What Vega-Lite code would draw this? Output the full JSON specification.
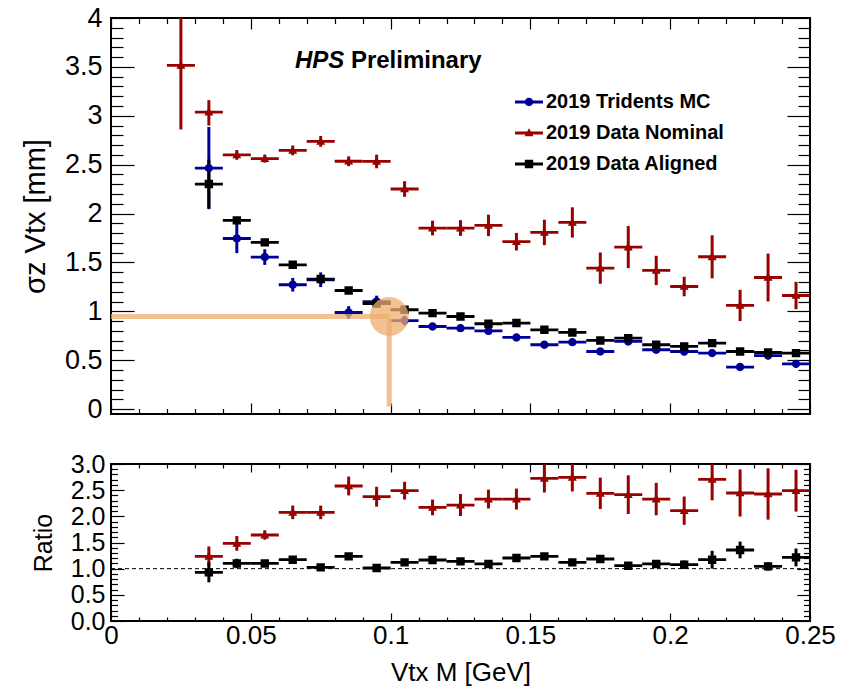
{
  "$schema": "https://vega.github.io/schema/vega-lite/v6.json",
  "padding": {"left": 20, "top": 3, "right": 16, "bottom": 4},
  "config": {
    "font": "Liberation Sans",
    "view": {"stroke": "black", "strokeWidth": 2},
    "axis": {"domain": false, "grid": false, "tickColor": "black", "tickWidth": 1.2, "labelColor": "black", "titleColor": "black", "labelFont": "Liberation Sans", "titleFont": "Liberation Sans", "titleFontWeight": "normal", "labelFlush": false, "labelOverlap": false, "labelBound": false}
  },
  "datasets": {
    "main": [
      {"s": "2019 Tridents MC", "x": 0.035, "y": 2.465, "lo": 2.045, "hi": 2.885},
      {"s": "2019 Tridents MC", "x": 0.045, "y": 1.745, "lo": 1.595, "hi": 1.895},
      {"s": "2019 Tridents MC", "x": 0.055, "y": 1.555, "lo": 1.475, "hi": 1.635},
      {"s": "2019 Tridents MC", "x": 0.065, "y": 1.272, "lo": 1.202, "hi": 1.342},
      {"s": "2019 Tridents MC", "x": 0.075, "y": 1.323, "lo": 1.248, "hi": 1.398},
      {"s": "2019 Tridents MC", "x": 0.085, "y": 0.988, "lo": 0.923, "hi": 1.053},
      {"s": "2019 Tridents MC", "x": 0.095, "y": 1.1, "lo": 1.04, "hi": 1.16},
      {"s": "2019 Tridents MC", "x": 0.105, "y": 0.905, "lo": 0.855, "hi": 0.955},
      {"s": "2019 Tridents MC", "x": 0.115, "y": 0.845, "lo": 0.815, "hi": 0.875},
      {"s": "2019 Tridents MC", "x": 0.125, "y": 0.828, "lo": 0.793, "hi": 0.863},
      {"s": "2019 Tridents MC", "x": 0.135, "y": 0.8, "lo": 0.76, "hi": 0.84},
      {"s": "2019 Tridents MC", "x": 0.145, "y": 0.733, "lo": 0.703, "hi": 0.763},
      {"s": "2019 Tridents MC", "x": 0.155, "y": 0.658, "lo": 0.638, "hi": 0.678},
      {"s": "2019 Tridents MC", "x": 0.165, "y": 0.685, "lo": 0.655, "hi": 0.715},
      {"s": "2019 Tridents MC", "x": 0.175, "y": 0.589, "lo": 0.569, "hi": 0.609},
      {"s": "2019 Tridents MC", "x": 0.185, "y": 0.692, "lo": 0.662, "hi": 0.722},
      {"s": "2019 Tridents MC", "x": 0.195, "y": 0.607, "lo": 0.577, "hi": 0.637},
      {"s": "2019 Tridents MC", "x": 0.205, "y": 0.589, "lo": 0.549, "hi": 0.629},
      {"s": "2019 Tridents MC", "x": 0.215, "y": 0.573, "lo": 0.533, "hi": 0.613},
      {"s": "2019 Tridents MC", "x": 0.225, "y": 0.43, "lo": 0.4, "hi": 0.46},
      {"s": "2019 Tridents MC", "x": 0.235, "y": 0.548, "lo": 0.508, "hi": 0.588},
      {"s": "2019 Tridents MC", "x": 0.245, "y": 0.463, "lo": 0.423, "hi": 0.503},
      {"s": "2019 Data Nominal", "x": 0.025, "y": 3.515, "lo": 2.86, "hi": 4.17},
      {"s": "2019 Data Nominal", "x": 0.035, "y": 3.038, "lo": 2.9, "hi": 3.16},
      {"s": "2019 Data Nominal", "x": 0.045, "y": 2.6, "lo": 2.55, "hi": 2.65},
      {"s": "2019 Data Nominal", "x": 0.055, "y": 2.561, "lo": 2.521, "hi": 2.601},
      {"s": "2019 Data Nominal", "x": 0.065, "y": 2.646, "lo": 2.596, "hi": 2.696},
      {"s": "2019 Data Nominal", "x": 0.075, "y": 2.738, "lo": 2.683, "hi": 2.793},
      {"s": "2019 Data Nominal", "x": 0.085, "y": 2.535, "lo": 2.485, "hi": 2.585},
      {"s": "2019 Data Nominal", "x": 0.095, "y": 2.533, "lo": 2.463, "hi": 2.603},
      {"s": "2019 Data Nominal", "x": 0.105, "y": 2.251, "lo": 2.171, "hi": 2.331},
      {"s": "2019 Data Nominal", "x": 0.115, "y": 1.852, "lo": 1.777, "hi": 1.927},
      {"s": "2019 Data Nominal", "x": 0.125, "y": 1.852, "lo": 1.772, "hi": 1.932},
      {"s": "2019 Data Nominal", "x": 0.135, "y": 1.879, "lo": 1.769, "hi": 1.989},
      {"s": "2019 Data Nominal", "x": 0.145, "y": 1.712, "lo": 1.622, "hi": 1.802},
      {"s": "2019 Data Nominal", "x": 0.155, "y": 1.807, "lo": 1.677, "hi": 1.937},
      {"s": "2019 Data Nominal", "x": 0.165, "y": 1.909, "lo": 1.754, "hi": 2.064},
      {"s": "2019 Data Nominal", "x": 0.175, "y": 1.442, "lo": 1.282, "hi": 1.602},
      {"s": "2019 Data Nominal", "x": 0.185, "y": 1.657, "lo": 1.442, "hi": 1.872},
      {"s": "2019 Data Nominal", "x": 0.195, "y": 1.418, "lo": 1.268, "hi": 1.568},
      {"s": "2019 Data Nominal", "x": 0.205, "y": 1.254, "lo": 1.154, "hi": 1.354},
      {"s": "2019 Data Nominal", "x": 0.215, "y": 1.558, "lo": 1.338, "hi": 1.778},
      {"s": "2019 Data Nominal", "x": 0.225, "y": 1.06, "lo": 0.9, "hi": 1.22},
      {"s": "2019 Data Nominal", "x": 0.235, "y": 1.346, "lo": 1.101, "hi": 1.591},
      {"s": "2019 Data Nominal", "x": 0.245, "y": 1.162, "lo": 1.022, "hi": 1.302},
      {"s": "2019 Data Aligned", "x": 0.035, "y": 2.302, "lo": 2.052, "hi": 2.552},
      {"s": "2019 Data Aligned", "x": 0.045, "y": 1.93, "lo": 1.9, "hi": 1.96},
      {"s": "2019 Data Aligned", "x": 0.055, "y": 1.705, "lo": 1.675, "hi": 1.735},
      {"s": "2019 Data Aligned", "x": 0.065, "y": 1.476, "lo": 1.456, "hi": 1.496},
      {"s": "2019 Data Aligned", "x": 0.075, "y": 1.33, "lo": 1.3, "hi": 1.36},
      {"s": "2019 Data Aligned", "x": 0.085, "y": 1.213, "lo": 1.193, "hi": 1.233},
      {"s": "2019 Data Aligned", "x": 0.095, "y": 1.08, "lo": 1.06, "hi": 1.1},
      {"s": "2019 Data Aligned", "x": 0.105, "y": 1.016, "lo": 0.996, "hi": 1.036},
      {"s": "2019 Data Aligned", "x": 0.115, "y": 0.982, "lo": 0.962, "hi": 1.002},
      {"s": "2019 Data Aligned", "x": 0.125, "y": 0.947, "lo": 0.927, "hi": 0.967},
      {"s": "2019 Data Aligned", "x": 0.135, "y": 0.873, "lo": 0.853, "hi": 0.893},
      {"s": "2019 Data Aligned", "x": 0.145, "y": 0.88, "lo": 0.86, "hi": 0.9},
      {"s": "2019 Data Aligned", "x": 0.155, "y": 0.811, "lo": 0.791, "hi": 0.831},
      {"s": "2019 Data Aligned", "x": 0.165, "y": 0.784, "lo": 0.764, "hi": 0.804},
      {"s": "2019 Data Aligned", "x": 0.175, "y": 0.702, "lo": 0.682, "hi": 0.722},
      {"s": "2019 Data Aligned", "x": 0.185, "y": 0.726, "lo": 0.706, "hi": 0.746},
      {"s": "2019 Data Aligned", "x": 0.195, "y": 0.658, "lo": 0.638, "hi": 0.678},
      {"s": "2019 Data Aligned", "x": 0.205, "y": 0.641, "lo": 0.621, "hi": 0.661},
      {"s": "2019 Data Aligned", "x": 0.215, "y": 0.675, "lo": 0.655, "hi": 0.695},
      {"s": "2019 Data Aligned", "x": 0.225, "y": 0.589, "lo": 0.569, "hi": 0.609},
      {"s": "2019 Data Aligned", "x": 0.235, "y": 0.579, "lo": 0.559, "hi": 0.599},
      {"s": "2019 Data Aligned", "x": 0.245, "y": 0.573, "lo": 0.543, "hi": 0.603}
    ],
    "ratio": [
      {"s": "2019 Data Nominal", "x": 0.035, "y": 1.235, "lo": 1.045, "hi": 1.425},
      {"s": "2019 Data Nominal", "x": 0.045, "y": 1.483, "lo": 1.343, "hi": 1.623},
      {"s": "2019 Data Nominal", "x": 0.055, "y": 1.643, "lo": 1.553, "hi": 1.733},
      {"s": "2019 Data Nominal", "x": 0.065, "y": 2.076, "lo": 1.946, "hi": 2.206},
      {"s": "2019 Data Nominal", "x": 0.075, "y": 2.076, "lo": 1.946, "hi": 2.206},
      {"s": "2019 Data Nominal", "x": 0.085, "y": 2.58, "lo": 2.4, "hi": 2.76},
      {"s": "2019 Data Nominal", "x": 0.095, "y": 2.375, "lo": 2.185, "hi": 2.565},
      {"s": "2019 Data Nominal", "x": 0.105, "y": 2.49, "lo": 2.32, "hi": 2.66},
      {"s": "2019 Data Nominal", "x": 0.115, "y": 2.17, "lo": 2.02, "hi": 2.32},
      {"s": "2019 Data Nominal", "x": 0.125, "y": 2.216, "lo": 2.006, "hi": 2.426},
      {"s": "2019 Data Nominal", "x": 0.135, "y": 2.33, "lo": 2.15, "hi": 2.51},
      {"s": "2019 Data Nominal", "x": 0.145, "y": 2.33, "lo": 2.13, "hi": 2.53},
      {"s": "2019 Data Nominal", "x": 0.155, "y": 2.725, "lo": 2.455, "hi": 2.995},
      {"s": "2019 Data Nominal", "x": 0.165, "y": 2.745, "lo": 2.475, "hi": 3.015},
      {"s": "2019 Data Nominal", "x": 0.175, "y": 2.44, "lo": 2.14, "hi": 2.74},
      {"s": "2019 Data Nominal", "x": 0.185, "y": 2.414, "lo": 2.044, "hi": 2.784},
      {"s": "2019 Data Nominal", "x": 0.195, "y": 2.33, "lo": 2.02, "hi": 2.64},
      {"s": "2019 Data Nominal", "x": 0.205, "y": 2.108, "lo": 1.838, "hi": 2.378},
      {"s": "2019 Data Nominal", "x": 0.215, "y": 2.706, "lo": 2.306, "hi": 3.106},
      {"s": "2019 Data Nominal", "x": 0.225, "y": 2.446, "lo": 1.996, "hi": 2.896},
      {"s": "2019 Data Nominal", "x": 0.235, "y": 2.427, "lo": 1.937, "hi": 2.917},
      {"s": "2019 Data Nominal", "x": 0.245, "y": 2.49, "lo": 2.09, "hi": 2.89},
      {"s": "2019 Data Aligned", "x": 0.035, "y": 0.929, "lo": 0.739, "hi": 1.119},
      {"s": "2019 Data Aligned", "x": 0.045, "y": 1.1, "lo": 1.01, "hi": 1.19},
      {"s": "2019 Data Aligned", "x": 0.055, "y": 1.1, "lo": 1.04, "hi": 1.16},
      {"s": "2019 Data Aligned", "x": 0.065, "y": 1.171, "lo": 1.111, "hi": 1.231},
      {"s": "2019 Data Aligned", "x": 0.075, "y": 1.024, "lo": 0.974, "hi": 1.074},
      {"s": "2019 Data Aligned", "x": 0.085, "y": 1.235, "lo": 1.175, "hi": 1.295},
      {"s": "2019 Data Aligned", "x": 0.095, "y": 1.013, "lo": 0.963, "hi": 1.063},
      {"s": "2019 Data Aligned", "x": 0.105, "y": 1.12, "lo": 1.07, "hi": 1.17},
      {"s": "2019 Data Aligned", "x": 0.115, "y": 1.166, "lo": 1.116, "hi": 1.216},
      {"s": "2019 Data Aligned", "x": 0.125, "y": 1.14, "lo": 1.08, "hi": 1.2},
      {"s": "2019 Data Aligned", "x": 0.135, "y": 1.09, "lo": 1.04, "hi": 1.14},
      {"s": "2019 Data Aligned", "x": 0.145, "y": 1.204, "lo": 1.144, "hi": 1.264},
      {"s": "2019 Data Aligned", "x": 0.155, "y": 1.235, "lo": 1.175, "hi": 1.295},
      {"s": "2019 Data Aligned", "x": 0.165, "y": 1.12, "lo": 1.06, "hi": 1.18},
      {"s": "2019 Data Aligned", "x": 0.175, "y": 1.185, "lo": 1.125, "hi": 1.245},
      {"s": "2019 Data Aligned", "x": 0.185, "y": 1.057, "lo": 0.997, "hi": 1.117},
      {"s": "2019 Data Aligned", "x": 0.195, "y": 1.09, "lo": 1.02, "hi": 1.16},
      {"s": "2019 Data Aligned", "x": 0.205, "y": 1.076, "lo": 0.996, "hi": 1.156},
      {"s": "2019 Data Aligned", "x": 0.215, "y": 1.171, "lo": 1.001, "hi": 1.341},
      {"s": "2019 Data Aligned", "x": 0.225, "y": 1.357, "lo": 1.197, "hi": 1.517},
      {"s": "2019 Data Aligned", "x": 0.235, "y": 1.043, "lo": 0.963, "hi": 1.123},
      {"s": "2019 Data Aligned", "x": 0.245, "y": 1.215, "lo": 1.045, "hi": 1.385}
    ]
  },
  "spacing": 27,
  "resolve": {"scale": {"color": "independent", "shape": "independent"}},
  "vconcat": [
    {
      "width": 699,
      "height": 396,
      "resolve": {"axis": {"x": "independent", "y": "independent"}},
      "layer": [
        {
          "data": {"name": "main"},
          "mark": {"type": "rule", "strokeWidth": 3, "clip": true},
          "encoding": {
            "x": {"field": "x", "type": "quantitative", "scale": {"domain": [0, 0.25], "nice": false, "zero": false},
                  "axis": {"orient": "bottom", "values": [0, 0.05, 0.1, 0.15, 0.2, 0.25], "tickSize": -11, "labels": false, "title": null}},
            "y": {"field": "lo", "type": "quantitative", "scale": {"domain": [-0.05, 4], "nice": false, "zero": false},
                  "axis": {"orient": "left", "values": [0, 0.5, 1, 1.5, 2, 2.5, 3, 3.5, 4], "format": "~g", "tickSize": -23, "labelPadding": 32, "labelFontSize": 27, "title": "σz Vtx [mm]", "titleFontSize": 29, "titlePadding": 14}},
            "y2": {"field": "hi"},
            "color": {"field": "s", "type": "nominal", "scale": {"domain": ["2019 Tridents MC", "2019 Data Nominal", "2019 Data Aligned"], "range": ["#000099", "#990000", "#000000"]}}
          }
        },
        {
          "data": {"name": "main"},
          "mark": {"type": "point", "filled": true, "size": 784, "opacity": 1, "strokeWidth": 0, "clip": true},
          "encoding": {
            "x": {"field": "x", "type": "quantitative",
                  "axis": {"orient": "bottom", "values": [0.01, 0.02, 0.03, 0.04, 0.06, 0.07, 0.08, 0.09, 0.11, 0.12, 0.13, 0.14, 0.16, 0.17, 0.18, 0.19, 0.21, 0.22, 0.23, 0.24], "tickSize": -5.5, "labels": false, "title": null}},
            "y": {"field": "y", "type": "quantitative",
                  "axis": {"orient": "left", "values": [0.1, 0.2, 0.3, 0.4, 0.6, 0.7, 0.8, 0.9, 1.1, 1.2, 1.3, 1.4, 1.6, 1.7, 1.8, 1.9, 2.1, 2.2, 2.3, 2.4, 2.6, 2.7, 2.8, 2.9, 3.1, 3.2, 3.3, 3.4, 3.6, 3.7, 3.8, 3.9], "tickSize": -12, "labels": false, "title": null}},
            "color": {"field": "s", "type": "nominal", "scale": {"domain": ["2019 Tridents MC", "2019 Data Nominal", "2019 Data Aligned"], "range": ["#000099", "#990000", "#000000"]},
                      "legend": {"orient": "none", "legendX": 404, "legendY": 70, "title": null, "labelFontSize": 20, "labelFontWeight": "bold", "labelFont": "Liberation Sans", "labelColor": "black", "labelLimit": 0, "symbolSize": 784, "symbolStrokeWidth": 0, "symbolOpacity": 1, "rowPadding": 7, "labelOffset": 3, "padding": 0}},
            "shape": {"field": "s", "type": "nominal", "scale": {"domain": ["2019 Tridents MC", "2019 Data Nominal", "2019 Data Aligned"], "range": ["M-1,-0.1H1V0.1H-1Z M0.3,0A0.3,0.3 0 1,1 -0.3,0A0.3,0.3 0 1,1 0.3,0Z", "M-1,-0.1H1V0.1H-1Z M0,-0.34L0.32,0.24H-0.32Z", "M-1,-0.1H1V0.1H-1Z M-0.3,-0.3H0.3V0.3H-0.3Z"]},
                      "legend": {"orient": "none", "legendX": 404, "legendY": 70, "title": null, "labelFontSize": 20, "labelFontWeight": "bold", "labelFont": "Liberation Sans", "labelColor": "black", "labelLimit": 0, "symbolSize": 784, "symbolStrokeWidth": 0, "symbolOpacity": 1, "rowPadding": 7, "labelOffset": 3, "padding": 0}}
          }
        },
        {
          "data": {"values": [{}]},
          "mark": {"type": "rule", "color": "#eeae6e", "opacity": 0.75, "strokeWidth": 5},
          "encoding": {
            "x": {"datum": 0, "type": "quantitative", "axis": {"orient": "top", "values": [0, 0.05, 0.1, 0.15, 0.2, 0.25], "tickSize": -11, "labels": false, "title": null}},
            "x2": {"datum": 0.0995},
            "y": {"datum": 0.947, "type": "quantitative", "axis": {"orient": "right", "values": [0, 0.5, 1, 1.5, 2, 2.5, 3, 3.5, 4], "tickSize": -23, "labels": false, "title": null}}
          }
        },
        {
          "data": {"values": [{}]},
          "mark": {"type": "rule", "color": "#eeae6e", "opacity": 0.75, "strokeWidth": 5},
          "encoding": {
            "x": {"datum": 0.0995, "type": "quantitative", "axis": {"orient": "top", "values": [0.01, 0.02, 0.03, 0.04, 0.06, 0.07, 0.08, 0.09, 0.11, 0.12, 0.13, 0.14, 0.16, 0.17, 0.18, 0.19, 0.21, 0.22, 0.23, 0.24], "tickSize": -5.5, "labels": false, "title": null}},
            "y": {"datum": 0.925, "type": "quantitative", "axis": {"orient": "right", "values": [0.1, 0.2, 0.3, 0.4, 0.6, 0.7, 0.8, 0.9, 1.1, 1.2, 1.3, 1.4, 1.6, 1.7, 1.8, 1.9, 2.1, 2.2, 2.3, 2.4, 2.6, 2.7, 2.8, 2.9, 3.1, 3.2, 3.3, 3.4, 3.6, 3.7, 3.8, 3.9], "tickSize": -12, "labels": false, "title": null}},
            "y2": {"datum": 0.027}
          }
        },
        {
          "data": {"values": [{}]},
          "mark": {"type": "point", "shape": "circle", "filled": true, "color": "#eeae6e", "opacity": 0.75, "size": 1520, "strokeWidth": 0},
          "encoding": {
            "x": {"datum": 0.0995, "type": "quantitative", "axis": null},
            "y": {"datum": 0.947, "type": "quantitative", "axis": null}
          }
        },
        {
          "data": {"values": [{}]},
          "mark": {"type": "text", "text": "HPS", "font": "Liberation Sans", "fontSize": 24, "fontWeight": "bold", "fontStyle": "italic", "align": "left", "baseline": "alphabetic", "color": "black"},
          "encoding": {
            "x": {"datum": 0.0658, "type": "quantitative", "axis": null},
            "y": {"datum": 3.49, "type": "quantitative", "axis": null}
          }
        },
        {
          "data": {"values": [{}]},
          "mark": {"type": "text", "text": "Preliminary", "font": "Liberation Sans", "fontSize": 24, "fontWeight": "bold", "align": "left", "baseline": "alphabetic", "color": "black"},
          "encoding": {
            "x": {"datum": 0.0858, "type": "quantitative", "axis": null},
            "y": {"datum": 3.49, "type": "quantitative", "axis": null}
          }
        }
      ]
    },
    {
      "width": 699,
      "height": 157,
      "resolve": {"axis": {"x": "independent", "y": "independent"}},
      "layer": [
        {
          "data": {"name": "ratio"},
          "mark": {"type": "rule", "strokeWidth": 3, "clip": true},
          "encoding": {
            "x": {"field": "x", "type": "quantitative", "scale": {"domain": [0, 0.25], "nice": false, "zero": false},
                  "axis": {"orient": "bottom", "values": [0, 0.05, 0.1, 0.15, 0.2, 0.25], "format": "~g", "tickSize": -8, "labelPadding": 9, "labelFontSize": 26, "title": "Vtx M [GeV]", "titleFontSize": 26, "titlePadding": 11}},
            "y": {"field": "lo", "type": "quantitative", "scale": {"domain": [0, 3], "nice": false, "zero": false},
                  "axis": {"orient": "left", "values": [0, 0.5, 1, 1.5, 2, 2.5, 3], "format": ".1f", "tickSize": -13, "labelPadding": 19, "labelFontSize": 25, "title": "Ratio", "titleFontSize": 25, "titlePadding": 14}},
            "y2": {"field": "hi"},
            "color": {"field": "s", "type": "nominal", "scale": {"domain": ["2019 Tridents MC", "2019 Data Nominal", "2019 Data Aligned"], "range": ["#000099", "#990000", "#000000"]}, "legend": null}
          }
        },
        {
          "data": {"values": [{}]},
          "mark": {"type": "rule", "color": "black", "strokeWidth": 1, "strokeDash": [4, 3]},
          "encoding": {
            "x": {"datum": 0, "type": "quantitative", "axis": {"orient": "top", "values": [0, 0.05, 0.1, 0.15, 0.2, 0.25], "tickSize": -8, "labels": false, "title": null}},
            "x2": {"datum": 0.25},
            "y": {"datum": 1, "type": "quantitative", "axis": {"orient": "right", "values": [0, 0.5, 1, 1.5, 2, 2.5, 3], "tickSize": -13, "labels": false, "title": null}}
          }
        },
        {
          "data": {"name": "ratio"},
          "transform": [{"filter": "datum.s == '2019 Data Nominal'"}],
          "mark": {"type": "point", "filled": true, "size": 784, "opacity": 1, "strokeWidth": 0, "clip": true},
          "encoding": {
            "x": {"field": "x", "type": "quantitative",
                  "axis": {"orient": "bottom", "values": [0.01, 0.02, 0.03, 0.04, 0.06, 0.07, 0.08, 0.09, 0.11, 0.12, 0.13, 0.14, 0.16, 0.17, 0.18, 0.19, 0.21, 0.22, 0.23, 0.24], "tickSize": -4, "labels": false, "title": null}},
            "y": {"field": "y", "type": "quantitative",
                  "axis": {"orient": "left", "values": [0.1, 0.2, 0.3, 0.4, 0.6, 0.7, 0.8, 0.9, 1.1, 1.2, 1.3, 1.4, 1.6, 1.7, 1.8, 1.9, 2.1, 2.2, 2.3, 2.4, 2.6, 2.7, 2.8, 2.9], "tickSize": -6.5, "labels": false, "title": null}},
            "color": {"field": "s", "type": "nominal", "scale": {"domain": ["2019 Tridents MC", "2019 Data Nominal", "2019 Data Aligned"], "range": ["#000099", "#990000", "#000000"]}, "legend": null},
            "shape": {"field": "s", "type": "nominal", "scale": {"domain": ["2019 Tridents MC", "2019 Data Nominal", "2019 Data Aligned"], "range": ["M-1,-0.1H1V0.1H-1Z M0.3,0A0.3,0.3 0 1,1 -0.3,0A0.3,0.3 0 1,1 0.3,0Z", "M-1,-0.1H1V0.1H-1Z M0,-0.34L0.32,0.24H-0.32Z", "M-1,-0.1H1V0.1H-1Z M-0.3,-0.3H0.3V0.3H-0.3Z"]}, "legend": null}
          }
        },
        {
          "data": {"name": "ratio"},
          "transform": [{"filter": "datum.s == '2019 Data Aligned'"}],
          "mark": {"type": "point", "filled": true, "size": 784, "opacity": 1, "strokeWidth": 0, "clip": true},
          "encoding": {
            "x": {"field": "x", "type": "quantitative",
                  "axis": {"orient": "top", "values": [0.01, 0.02, 0.03, 0.04, 0.06, 0.07, 0.08, 0.09, 0.11, 0.12, 0.13, 0.14, 0.16, 0.17, 0.18, 0.19, 0.21, 0.22, 0.23, 0.24], "tickSize": -4, "labels": false, "title": null}},
            "y": {"field": "y", "type": "quantitative",
                  "axis": {"orient": "right", "values": [0.1, 0.2, 0.3, 0.4, 0.6, 0.7, 0.8, 0.9, 1.1, 1.2, 1.3, 1.4, 1.6, 1.7, 1.8, 1.9, 2.1, 2.2, 2.3, 2.4, 2.6, 2.7, 2.8, 2.9], "tickSize": -6.5, "labels": false, "title": null}},
            "color": {"field": "s", "type": "nominal", "scale": {"domain": ["2019 Tridents MC", "2019 Data Nominal", "2019 Data Aligned"], "range": ["#000099", "#990000", "#000000"]}, "legend": null},
            "shape": {"field": "s", "type": "nominal", "scale": {"domain": ["2019 Tridents MC", "2019 Data Nominal", "2019 Data Aligned"], "range": ["M-1,-0.1H1V0.1H-1Z M0.3,0A0.3,0.3 0 1,1 -0.3,0A0.3,0.3 0 1,1 0.3,0Z", "M-1,-0.1H1V0.1H-1Z M0,-0.34L0.32,0.24H-0.32Z", "M-1,-0.1H1V0.1H-1Z M-0.3,-0.3H0.3V0.3H-0.3Z"]}, "legend": null}
          }
        }
      ]
    }
  ]
}
